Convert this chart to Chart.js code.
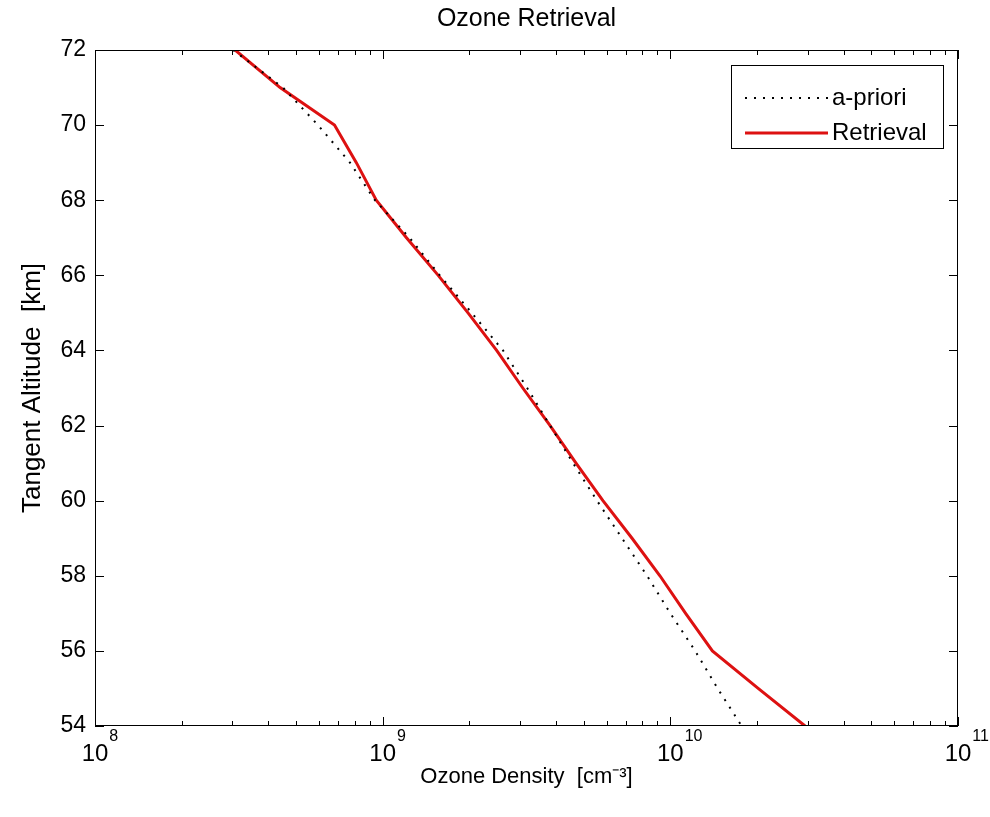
<!DOCTYPE html>
<html>
<head>
<meta charset="utf-8">
<title>Ozone Retrieval</title>
<script src="https://cdn.jsdelivr.net/npm/chart.js@4.4.1/dist/chart.umd.min.js"></script>
<style>
    html, body { margin: 0; padding: 0; background: #ffffff; }
    #wrap { width: 990px; height: 817px; }
</style>
</head>
<body>
<div id="wrap"><canvas id="ozoneChart" width="990" height="817"></canvas></div>
<script>
// Tangent altitude grid [km], top to bottom
const altitudes = [72, 71, 70, 69, 68, 67, 66, 65, 64, 63, 62, 61, 60, 59, 58, 57, 56, 55, 54];

// a-priori ozone profile [cm^-3]
const aprioriDensity = [
    3.02e8, 4.5e8, 5.96e8, 7.7e8, 9.4e8, 1.24e9, 1.58e9, 2.04e9, 2.62e9, 3.18e9,
    3.82e9, 4.59e9, 5.56e9, 6.79e9, 8.3e9, 1.0e10, 1.22e10, 1.46e10, 1.77e10
];

// retrieved ozone profile [cm^-3]
const retrievalDensity = [
    3.07e8, 4.4e8, 6.8e8, 8.1e8, 9.5e8, 1.21e9, 1.56e9, 1.98e9, 2.49e9, 3.07e9,
    3.82e9, 4.70e9, 5.83e9, 7.36e9, 9.2e9, 1.13e10, 1.40e10, 2.02e10, 2.94e10
];

// axis ticks
const altitudeTicks = [54, 56, 58, 60, 62, 64, 66, 68, 70, 72];
const densityDecades = [8, 9, 10, 11];

const FONT = '"Liberation Sans", Arial, sans-serif';

// all 1..9 x 10^n positions between the first and last decade
function densityTickValues() {
    const vals = [];
    for (let i = 0; i < densityDecades.length - 1; i++) {
        for (let m = 1; m <= 9; m++) vals.push(m * Math.pow(10, densityDecades[i]));
    }
    vals.push(Math.pow(10, densityDecades[densityDecades.length - 1]));
    return vals;
}

// MATLAB-like frame: box, inward ticks on all sides, 10^n labels, title and legend
const matlabFrame = {
    id: 'matlabFrame',
    afterDraw(chart) {
        const ctx = chart.ctx;
        const a = chart.chartArea;
        const xs = chart.scales.x;
        const ys = chart.scales.y;

        ctx.save();
        ctx.strokeStyle = '#000';
        ctx.lineWidth = 1;
        ctx.strokeRect(a.left + 0.5, a.top + 0.5, a.right - a.left - 1, a.bottom - a.top - 1);

        ctx.beginPath();
        densityTickValues().forEach(v => {
            const px = Math.round(xs.getPixelForValue(v)) + 0.5;
            const isMajor = Math.abs(Math.log10(v) - Math.round(Math.log10(v))) < 1e-9;
            const len = isMajor ? 9 : 5;
            ctx.moveTo(px, a.bottom);
            ctx.lineTo(px, a.bottom - len);
            ctx.moveTo(px, a.top);
            ctx.lineTo(px, a.top + len);
        });
        altitudeTicks.forEach(v => {
            const py = Math.round(ys.getPixelForValue(v)) + 0.5;
            ctx.moveTo(a.left, py);
            ctx.lineTo(a.left + 9, py);
            ctx.moveTo(a.right, py);
            ctx.lineTo(a.right - 9, py);
        });
        ctx.stroke();

        // decade labels: base 10 centred on the tick, exponent raised to its right
        ctx.fillStyle = '#000';
        ctx.textBaseline = 'middle';
        densityDecades.forEach(e => {
            const px = xs.getPixelForValue(Math.pow(10, e));
            ctx.font = '24px ' + FONT;
            ctx.textAlign = 'center';
            ctx.fillText('10', px, a.bottom + 28);
            const w = ctx.measureText('10').width;
            ctx.font = '16px ' + FONT;
            ctx.textAlign = 'left';
            ctx.fillText(String(e), px + w / 2 + 1, a.bottom + 11);
        });

        // title, centred over the axes
        ctx.font = '25px ' + FONT;
        ctx.textAlign = 'center';
        ctx.fillText('Ozone Retrieval', (a.left + a.right) / 2, 19);

        // legend box, top right
        const bx = 731, by = 65, bw = 212, bh = 83;
        ctx.fillStyle = '#fff';
        ctx.fillRect(bx, by, bw, bh);
        ctx.strokeStyle = '#000';
        ctx.lineWidth = 1;
        ctx.strokeRect(bx + 0.5, by + 0.5, bw, bh);

        chart.data.datasets.forEach((ds, i) => {
            const ly = by + 33 + i * 35;
            ctx.beginPath();
            ctx.setLineDash(ds.borderDash || []);
            ctx.strokeStyle = ds.borderColor;
            ctx.lineWidth = ds.borderWidth;
            ctx.moveTo(745, ly);
            ctx.lineTo(828, ly);
            ctx.stroke();
            ctx.setLineDash([]);
            ctx.fillStyle = '#000';
            ctx.font = '24px ' + FONT;
            ctx.textAlign = 'left';
            ctx.fillText(ds.label, 832, ly);
        });
        ctx.restore();
    }
};

const ctx = document.getElementById('ozoneChart').getContext('2d');

new Chart(ctx, {
    type: 'line',
    data: {
        datasets: [
            {
                label: 'a-priori',
                data: altitudes.map((h, i) => ({ x: aprioriDensity[i], y: h })),
                borderColor: '#000000',
                borderWidth: 2,
                borderDash: [2, 7],
                pointRadius: 0,
                tension: 0,
                fill: false
            },
            {
                label: 'Retrieval',
                data: altitudes.map((h, i) => ({ x: retrievalDensity[i], y: h })),
                borderColor: '#dd1111',
                borderWidth: 3,
                pointRadius: 0,
                tension: 0,
                fill: false
            }
        ]
    },
    options: {
        responsive: false,
        devicePixelRatio: 1,
        animation: false,
        layout: {
            padding: { top: 50, right: 32, left: 0, bottom: 0 }
        },
        plugins: {
            legend: { display: false },
            title: { display: false },
            tooltip: { enabled: false }
        },
        scales: {
            x: {
                type: 'logarithmic',
                min: Math.pow(10, densityDecades[0]),
                max: Math.pow(10, densityDecades[densityDecades.length - 1]),
                grid: { display: false, drawTicks: false },
                border: { display: false },
                afterBuildTicks: scale => {
                    scale.ticks = densityTickValues().map(v => ({ value: v }));
                },
                afterFit: scale => { scale.height = 91; },
                ticks: { display: false, autoSkip: false },
                title: {
                    display: true,
                    text: 'Ozone Density  [cm\u207b\u00b3]',
                    color: '#000',
                    font: { family: FONT, size: 22 },
                    padding: { top: 0, bottom: 27 }
                }
            },
            y: {
                type: 'linear',
                min: altitudeTicks[0],
                max: altitudeTicks[altitudeTicks.length - 1],
                grid: { display: false, drawTicks: false },
                border: { display: false },
                afterBuildTicks: scale => {
                    scale.ticks = altitudeTicks.map(v => ({ value: v }));
                },
                afterFit: scale => { scale.width = 95; },
                ticks: {
                    padding: 9,
                    color: '#000',
                    font: { family: FONT, size: 23 }
                },
                title: {
                    display: true,
                    text: 'Tangent Altitude  [km]',
                    color: '#000',
                    font: { family: FONT, size: 26 },
                    padding: { top: 17, bottom: 0 }
                }
            }
        }
    },
    plugins: [matlabFrame]
});
</script>
</body>
</html>
